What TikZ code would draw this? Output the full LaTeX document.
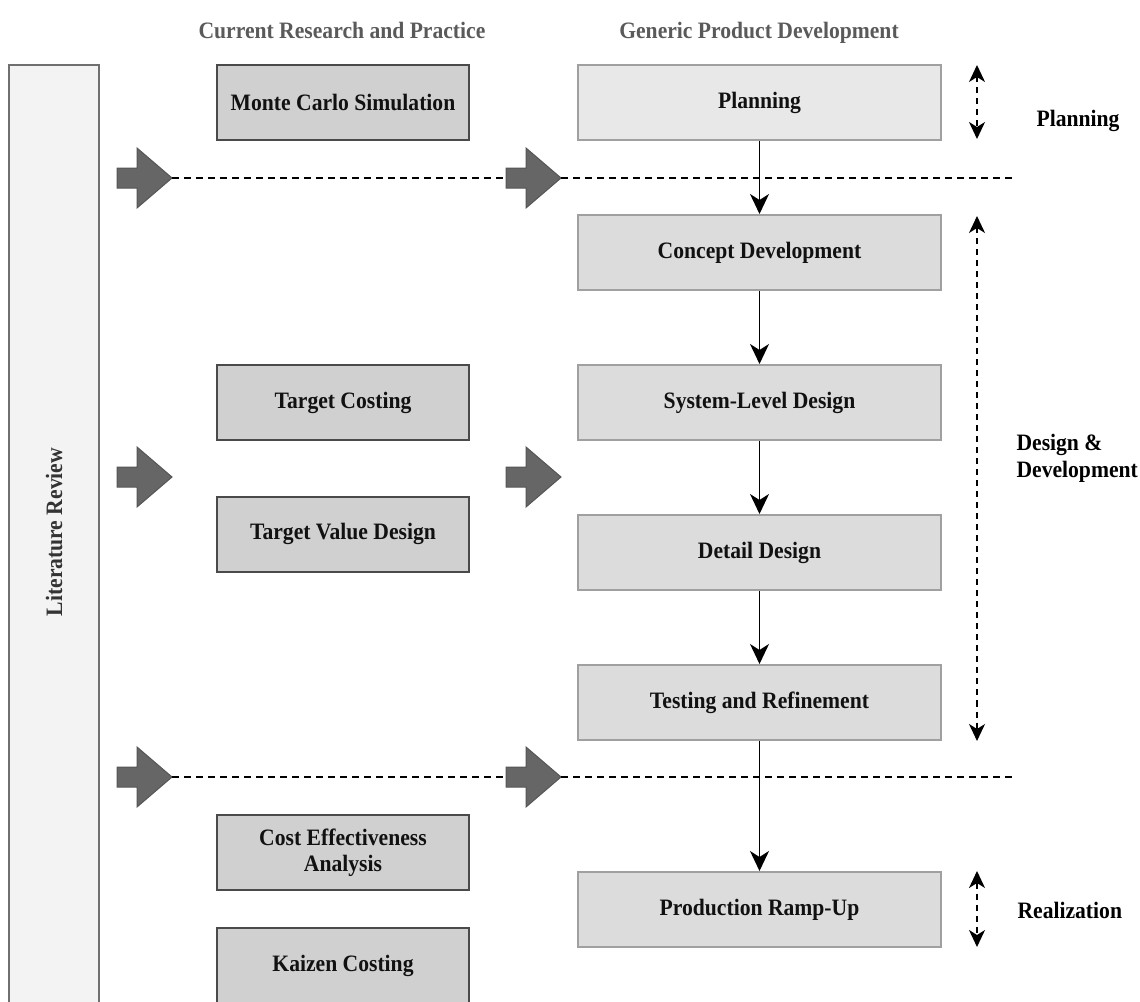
\documentclass[tikz,border=0pt]{standalone}
\usepackage{fontspec}
\setmainfont{Liberation Serif}[FakeStretch=0.92]
\usetikzlibrary{arrows.meta}
\definecolor{litfill}{HTML}{F3F3F3}
\definecolor{litborder}{HTML}{707070}
\definecolor{crpfill}{HTML}{D0D0D0}
\definecolor{crpborder}{HTML}{4A4A4A}
\definecolor{gpdfill}{HTML}{DCDCDC}
\definecolor{gpdborder}{HTML}{A0A0A0}
\definecolor{planfill}{HTML}{E8E8E8}
\definecolor{arrowfill}{HTML}{666666}
\definecolor{arrowborder}{HTML}{555555}
\definecolor{headgray}{HTML}{5A5A5A}
\definecolor{littext}{HTML}{333333}
\definecolor{boxtext}{HTML}{111111}
\tikzset{
  lbl/.style={font=\fontsize{23.5}{27}\selectfont\bfseries},
  litbox/.style={draw=litborder, fill=litfill, line width=1.5pt, minimum width=90pt, minimum height=940pt, inner sep=0pt},
  crpbox/.style={lbl, text=boxtext, draw=crpborder, fill=crpfill, line width=2pt, minimum width=252pt, minimum height=75pt, align=center, inner sep=0pt},
  gpdbox/.style={lbl, text=boxtext, draw=gpdborder, fill=gpdfill, line width=2pt, minimum width=363pt, minimum height=75pt, inner sep=0pt},
  header/.style={lbl, text=headgray},
  phase/.style={lbl, text=black, align=left},
  flow/.style={draw=black, line width=1.5pt, -{Stealth[length=20pt,width=19pt,inset=6pt]}},
  dashline/.style={draw=black, line width=1.8pt, dash pattern=on 7pt off 5pt},
  span/.style={draw=black, line width=1.5pt, dash pattern=on 6pt off 5pt, {Stealth[length=17pt,width=16pt,inset=5pt]}-{Stealth[length=17pt,width=16pt,inset=5pt]}},
  pics/blockarr/.style={code={
    \draw[draw=arrowborder, fill=arrowfill, line width=1pt, line join=miter]
      (0,-10) -- (20,-10) -- (20,-30) -- (55,0) -- (20,30) -- (20,10) -- (0,10) -- cycle;
    \coordinate (-tail) at (0,0);
    \coordinate (-tip) at (55,0);
  }}
}
\begin{document}
\begin{tikzpicture}[x=1pt,y=-1pt]
\useasboundingbox (0,0) rectangle (1140,1001);
% headers
\node[header, anchor=base] (h1) at (342,38) {Current Research and Practice};
\node[header, anchor=base] (h2) at (759,38) {Generic Product Development};
% literature review
\node[litbox] (lit) at (54,535) {};
\node[lbl, text=littext, rotate=90] (littxt) at (54,532) {Literature Review};
% left column
\node[crpbox] (mc) at (343,102.5) {Monte Carlo Simulation};
\node[crpbox] (tc) at (343,402.5) {Target Costing};
\node[crpbox] (tvd) at (343,534) {Target Value Design};
\node[crpbox] (cea) at (343,852.5) {Cost Effectiveness\\[-1pt]Analysis};
\node[crpbox] (kc) at (343,965.5) {Kaizen Costing};
% right column
\node[gpdbox, fill=planfill] (plan) at (759.5,102.5) {Planning};
\node[gpdbox] (cd) at (759.5,252.5) {Concept Development};
\node[gpdbox] (sld) at (759.5,402.5) {System-Level Design};
\node[gpdbox] (dd) at (759.5,552.5) {Detail Design};
\node[gpdbox] (tr) at (759.5,702.5) {Testing and Refinement};
\node[gpdbox] (pr) at (759.5,909.5) {Production Ramp-Up};
% flow arrows
\draw[flow] (plan.south) -- (cd.north);
\draw[flow] (cd.south) -- (sld.north);
\draw[flow] (sld.south) -- (dd.north);
\draw[flow] (dd.south) -- (tr.north);
\draw[flow] (tr.south) -- (pr.north);
% block arrows
\pic (la1) at (117,178) {blockarr};
\pic (ma1) at (506,178) {blockarr};
\pic (la2) at (117,477) {blockarr};
\pic (ma2) at (506,477) {blockarr};
\pic (la3) at (117,777) {blockarr};
\pic (ma3) at (506,777) {blockarr};
\coordinate (e1) at (1012,178);
\coordinate (e3) at (1012,777);
\draw[dashline] (la1-tip) -- (ma1-tail);
\draw[dashline] (ma1-tip) -- (e1);
\draw[dashline] (la3-tip) -- (ma3-tail);
\draw[dashline] (ma3-tip) -- (e3);
% phase spans
\coordinate (p1a) at (977,65);
\coordinate (p1b) at (977,139);
\coordinate (p2a) at (977,216);
\coordinate (p2b) at (977,741);
\coordinate (p3a) at (977,871);
\coordinate (p3b) at (977,947);
\draw[span] (p1a) -- (p1b);
\draw[span] (p2a) -- (p2b);
\draw[span] (p3a) -- (p3b);
% phase labels
\node[phase, anchor=west] (lp) at (1033,121) {Planning};
\node[phase, anchor=west] (ld) at (1013,458) {Design \&\\Development};
\node[phase, anchor=west] (lr) at (1014,910) {Realization};
\end{tikzpicture}
\end{document}
